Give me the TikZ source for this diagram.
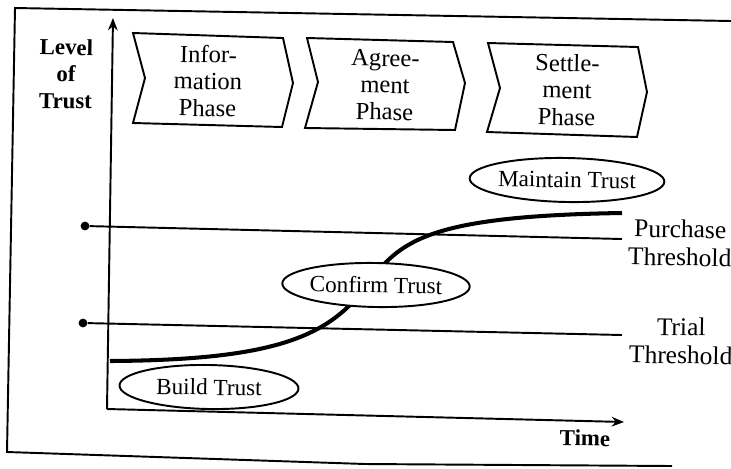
\documentclass[tikz,border=0pt]{standalone}
\usepackage{fontspec}
\setmainfont{Liberation Serif}
\usetikzlibrary{shapes.geometric,arrows.meta}
\begin{document}
\begin{tikzpicture}[x=0.02cm,y=-0.02cm,
  line/.style={line width=1.1pt},
  oval/.style={draw,ellipse,fill=white,line width=1.1pt,minimum width=3.58cm,minimum height=0.88cm,inner sep=0pt,rotate=-1,font=\fontsize{13.2}{15}\selectfont},
  phase/.style={align=center,rotate=-1,font=\fontsize{14}{15.3}\selectfont},
  lbl/.style={align=center,rotate=-1,font=\fontsize{14.5}{16}\selectfont},
  boldlbl/.style={align=center,rotate=-1,font=\fontsize{13}{15.3}\selectfont\bfseries},
  axis/.style={line width=1.1pt,-{Stealth[length=7pt,width=5.5pt]}},
  dot/.style={circle,fill,inner sep=0pt,minimum size=5pt}
]
\useasboundingbox (0,0) rectangle (731,468);
% frame
\draw[line] (731,21) -- (15,8) -- (7,452) -- (365,464) -- (672,466);
% phase chevrons
\draw[line] (133,33) -- (283,38) -- (293,83) -- (282,127) -- (133,123) -- (145,78) -- cycle;
\draw[line] (307,38) -- (453,42) -- (465,83) -- (455,130) -- (305,128) -- (318,82) -- cycle;
\draw[line] (488,43) -- (638,47) -- (647,92) -- (637,137) -- (487,132) -- (500,88) -- cycle;
\node[phase] (p1) at (208,81) {Infor-\\mation\\Phase};
\node[phase] (p2) at (385,85) {Agree-\\ment\\Phase};
\node[phase] (p3) at (567,90) {Settle-\\ment\\Phase};
% axis labels
\node[boldlbl] (ylab) at (66,74) {Level\\of\\Trust};
\node[boldlbl] (xlab) at (585,438) {Time};
% axes
\coordinate (O) at (107,409);
\coordinate (ytop) at (113,18);
\coordinate (xend) at (624,422);
\draw[axis] (O) -- (ytop);
\draw[axis] (O) -- (xend);
% thresholds
\node[dot] (pd) at (85,226) {};
\coordinate (pe) at (622,239);
\draw[line] (pd) -- (pe);
\node[dot] (td) at (83,323) {};
\coordinate (te) at (622,335);
\draw[line] (td) -- (te);
\node[lbl] (pl) at (680,243) {Purchase\\Threshold};
\node[lbl] (tl) at (681,341) {Trial\\Threshold};
% trust curve
\coordinate (cs) at (110,361);
\coordinate (ce) at (622,213);
\draw[line width=2.3pt] (cs) .. controls (280,360) and (330,335) .. (368,284) .. controls (400,240) and (430,216) .. (ce);
% stages
\node[oval] (mt) at (567,180) {Maintain Trust};
\node[oval] (ct) at (376,285) {Confirm Trust};
\node[oval] (bt) at (209,387) {Build Trust};
\end{tikzpicture}
\end{document}
